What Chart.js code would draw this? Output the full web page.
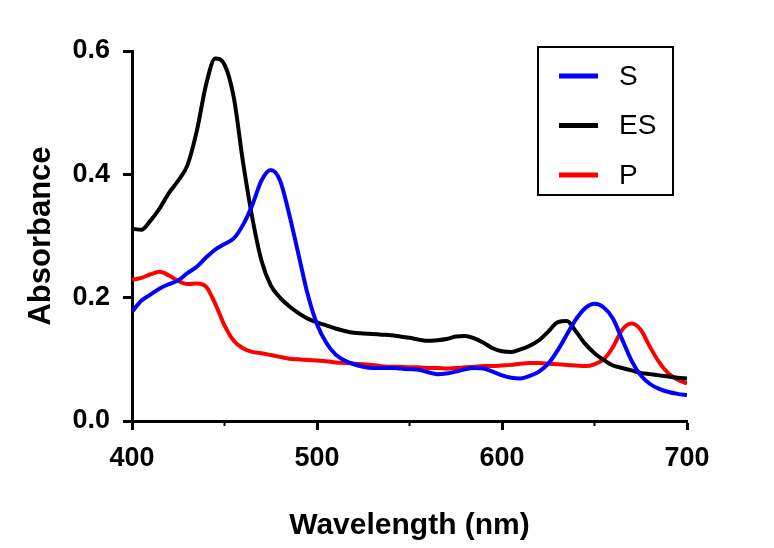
<!DOCTYPE html>
<html>
<head>
<meta charset="utf-8">
<script src="https://cdn.jsdelivr.net/npm/chart.js@4"></script>
<style>
  body { margin: 0; background: #fff; }
  canvas { display: block; }
</style>
</head>
<body>
<canvas id="specChart" width="774" height="548"></canvas>
<script>
// wavelength grid (nm), read every 5 nm
const wavelengths = [400,405,410,415,420,425,430,435,440,445,450,455,460,465,470,475,480,485,490,495,
  500,505,510,515,520,525,530,535,540,545,550,555,560,565,570,575,580,585,590,595,
  600,605,610,615,620,625,630,635,640,645,650,655,660,665,670,675,680,685,690,695,700];

const absS = [0.177,0.195,0.205,0.215,0.222,0.228,0.240,0.250,0.265,0.278,0.287,0.296,0.318,0.350,0.390,0.407,0.390,0.335,0.270,0.205,
  0.157,0.127,0.108,0.098,0.092,0.088,0.086,0.086,0.086,0.085,0.084,0.083,0.079,0.076,0.077,0.080,0.084,0.086,0.085,0.080,
  0.074,0.070,0.069,0.073,0.080,0.093,0.114,0.140,0.165,0.183,0.190,0.184,0.166,0.132,0.098,0.074,0.060,0.052,0.047,0.044,0.042];

const absES = [0.312,0.310,0.325,0.345,0.370,0.390,0.415,0.470,0.545,0.588,0.578,0.525,0.420,0.330,0.260,0.220,0.200,0.186,0.175,0.166,
  0.160,0.155,0.150,0.146,0.143,0.142,0.141,0.140,0.139,0.137,0.135,0.132,0.130,0.131,0.133,0.137,0.138,0.134,0.127,0.118,
  0.113,0.112,0.116,0.122,0.131,0.145,0.160,0.162,0.145,0.125,0.110,0.099,0.090,0.086,0.082,0.078,0.076,0.074,0.072,0.070,0.069];

const absP = [0.229,0.232,0.238,0.242,0.236,0.227,0.222,0.223,0.218,0.190,0.155,0.130,0.118,0.112,0.110,0.107,0.104,0.101,0.100,0.099,
  0.098,0.097,0.095,0.094,0.093,0.092,0.091,0.089,0.088,0.088,0.087,0.087,0.086,0.086,0.085,0.086,0.087,0.088,0.089,0.089,
  0.090,0.091,0.093,0.094,0.094,0.093,0.092,0.091,0.090,0.089,0.092,0.100,0.120,0.148,0.158,0.148,0.120,0.095,0.077,0.067,0.061];

const xTicks = [400, 500, 600, 700];
const xMinorTicks = [450, 550, 650];
const yTicks = [0, 0.2, 0.4, 0.6];

const toPoints = vals => wavelengths.map((w, i) => ({ x: w, y: vals[i] }));

Chart.defaults.font.family = "'Liberation Sans', Arial, sans-serif";
Chart.defaults.color = '#000';

// boxed legend top right + minor ticks on the x axis
const boxLegend = {
  id: 'boxLegend',
  afterDraw(chart) {
    const c = chart.ctx;
    const xs = chart.scales.x;
    c.save();
    c.strokeStyle = '#000';
    c.lineWidth = 2;
    xMinorTicks.forEach(v => {
      const px = xs.getPixelForValue(v);
      c.beginPath();
      c.moveTo(px, xs.top);
      c.lineTo(px, xs.top + 5);
      c.stroke();
    });
    c.strokeRect(538, 47, 135, 148);
    chart.data.datasets.forEach((ds, i) => {
      const y = 76 + i * 49.5;
      c.strokeStyle = ds.borderColor;
      c.lineWidth = 5;
      c.beginPath();
      c.moveTo(559, y);
      c.lineTo(598, y);
      c.stroke();
      c.fillStyle = '#000';
      c.font = "28px 'Liberation Sans', Arial, sans-serif";
      c.textBaseline = 'middle';
      c.fillText(ds.label, 619, y + 1);
    });
    c.restore();
  }
};

new Chart(document.getElementById('specChart').getContext('2d'), {
  type: 'line',
  data: {
    datasets: [
      { label: 'S', data: toPoints(absS), borderColor: '#0000ff' },
      { label: 'ES', data: toPoints(absES), borderColor: '#000000' },
      { label: 'P', data: toPoints(absP), borderColor: '#ff0000' }
    ]
  },
  options: {
    responsive: false,
    animation: false,
    layout: { padding: { left: 23, top: 51, right: 87, bottom: 4 } },
    elements: {
      point: { radius: 0 },
      line: { borderWidth: 4, tension: 0.35, cubicInterpolationMode: 'monotone' }
    },
    plugins: { legend: { display: false }, tooltip: { enabled: false } },
    scales: {
      x: {
        type: 'linear',
        min: 400, max: 700,
        afterBuildTicks: s => { s.ticks = xTicks.map(v => ({ value: v })); },
        afterFit: s => { s.height = 123; },
        border: { color: '#000', width: 3 },
        grid: { drawOnChartArea: false, tickLength: 9, tickWidth: 3, tickColor: '#000' },
        ticks: { padding: 12, maxRotation: 0, font: { size: 27, weight: 'bold' } },
        title: { display: true, text: 'Wavelength (nm)', padding: 0, font: { size: 30, weight: 'bold' } }
      },
      y: {
        min: 0, max: 0.6,
        afterBuildTicks: s => { s.ticks = yTicks.map(v => ({ value: v })); },
        afterFit: s => { s.width = 109; },
        border: { color: '#000', width: 3 },
        grid: { drawOnChartArea: false, tickLength: 9, tickWidth: 3, tickColor: '#000' },
        ticks: { padding: 13, callback: v => v.toFixed(1), font: { size: 27, weight: 'bold' } },
        title: { display: true, text: 'Absorbance', padding: 0, font: { size: 31, weight: 'bold' } }
      }
    }
  },
  plugins: [boxLegend]
});
</script>
</body>
</html>
